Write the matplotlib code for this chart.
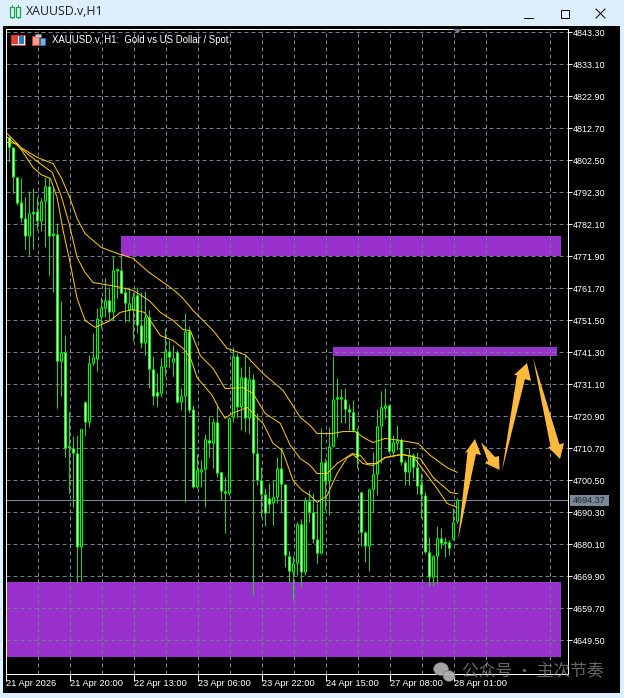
import matplotlib
matplotlib.use("Agg")
import matplotlib.pyplot as plt
from matplotlib.patches import Rectangle, Polygon, Ellipse

# hourly candles
opens = [4823.9, 4809.9, 4806.6, 4797.1, 4789.1, 4784.0, 4778.3, 4785.6, 4786.2, 4783.1,
         4789.4, 4794.2, 4778.6, 4778.9, 4738.4, 4741.3, 4711.0, 4710.7, 4709.1, 4679.2,
         4725.4, 4719.0, 4737.8, 4739.1, 4752.5, 4755.3, 4757.9, 4754.1, 4767.4, 4767.4,
         4760.4, 4754.7, 4754.7, 4759.5, 4749.9, 4744.2, 4752.5, 4735.9, 4728.6, 4728.2,
         4736.5, 4741.6, 4738.1, 4741.3, 4725.4, 4727.3, 4748.0, 4723.1, 4698.3, 4703.1,
         4704.0, 4713.3, 4712.3, 4719.0, 4703.1, 4697.0, 4696.3, 4720.6, 4740.0, 4723.8,
         4733.3, 4720.3, 4732.7, 4709.1, 4700.5, 4696.0, 4694.8, 4693.2, 4695.1, 4704.3,
         4699.2, 4676.3, 4671.2, 4674.0, 4686.5, 4671.2, 4693.8, 4690.3, 4681.7, 4677.2,
         4706.2, 4700.2, 4711.3, 4726.3, 4726.3, 4726.3, 4723.1, 4722.2, 4716.1, 4696.7,
         4683.9, 4679.5, 4697.6, 4702.4, 4717.7, 4723.4, 4724.4, 4709.4, 4712.3, 4713.3,
         4706.2, 4703.1, 4708.5, 4704.6, 4699.2, 4695.7, 4677.6, 4669.6, 4676.3, 4682.0,
         4680.4, 4680.7, 4681.7, 4687.4]
highs = [4823.9, 4809.9, 4806.6, 4797.1, 4796.8, 4790.7, 4792.6, 4793.5, 4790.7, 4790.4,
         4797.1, 4796.8, 4793.9, 4782.4, 4757.6, 4746.7, 4722.2, 4714.5, 4714.8, 4716.8,
         4725.7, 4740.3, 4747.4, 4755.3, 4758.8, 4764.9, 4762.0, 4771.9, 4768.1, 4772.2,
         4762.0, 4762.0, 4760.4, 4762.0, 4760.4, 4760.7, 4754.7, 4740.0, 4734.6, 4739.4,
         4748.9, 4745.1, 4743.5, 4741.9, 4729.8, 4753.7, 4749.6, 4724.4, 4708.8, 4706.9,
         4715.2, 4720.9, 4720.3, 4724.4, 4703.1, 4701.5, 4720.6, 4742.9, 4741.0, 4736.5,
         4740.3, 4736.8, 4734.3, 4721.9, 4704.6, 4697.9, 4699.5, 4700.5, 4707.8, 4711.0,
         4699.2, 4677.9, 4676.3, 4687.1, 4688.1, 4695.1, 4697.3, 4696.3, 4693.2, 4717.1,
         4707.5, 4717.4, 4740.0, 4733.0, 4729.5, 4729.8, 4724.7, 4726.0, 4717.1, 4696.7,
         4684.2, 4697.9, 4709.4, 4723.1, 4728.9, 4729.8, 4724.7, 4714.8, 4718.0, 4713.9,
         4706.9, 4710.7, 4709.1, 4709.4, 4702.7, 4696.7, 4682.3, 4676.6, 4685.8, 4685.2,
         4682.3, 4681.4, 4691.6, 4694.8]
lows = [4808.3, 4801.9, 4791.9, 4788.2, 4782.7, 4774.1, 4772.2, 4774.1, 4780.2, 4779.9,
        4774.8, 4765.8, 4760.4, 4723.4, 4727.3, 4707.8, 4696.3, 4691.9, 4667.7, 4668.3,
        4714.8, 4717.4, 4737.2, 4735.2, 4748.9, 4752.5, 4751.5, 4751.5, 4758.5, 4760.1,
        4750.9, 4750.9, 4744.8, 4747.4, 4742.6, 4740.3, 4729.8, 4724.4, 4723.8, 4727.0,
        4733.6, 4736.2, 4733.6, 4725.0, 4722.8, 4693.5, 4721.9, 4697.9, 4697.9, 4698.3,
        4691.9, 4707.8, 4704.3, 4701.5, 4694.1, 4683.6, 4695.7, 4719.0, 4720.3, 4716.4,
        4715.8, 4715.2, 4663.8, 4698.9, 4688.7, 4685.8, 4690.0, 4686.1, 4693.2, 4690.0,
        4672.8, 4668.0, 4662.3, 4670.2, 4666.4, 4670.2, 4687.1, 4680.4, 4674.0, 4677.2,
        4690.9, 4689.3, 4711.0, 4714.2, 4718.7, 4718.7, 4716.4, 4715.8, 4704.3, 4679.5,
        4674.4, 4671.5, 4690.3, 4695.7, 4705.9, 4720.3, 4709.1, 4707.8, 4710.1, 4705.3,
        4698.9, 4698.9, 4701.1, 4696.0, 4688.4, 4677.2, 4666.7, 4666.7, 4667.7, 4678.8,
        4676.0, 4676.6, 4681.4, 4686.8]
closes = [4809.9, 4806.6, 4797.1, 4788.8, 4784.0, 4778.3, 4785.6, 4785.4, 4783.1, 4789.4,
          4794.2, 4778.3, 4778.5, 4738.4, 4741.3, 4710.7, 4710.8, 4709.1, 4679.2, 4716.8,
          4719.0, 4737.8, 4739.7, 4752.1, 4755.6, 4757.9, 4754.1, 4767.4, 4767.2, 4760.1,
          4756.9, 4756.9, 4759.1, 4749.9, 4744.2, 4752.5, 4735.9, 4727.3, 4727.3, 4736.8,
          4741.6, 4739.7, 4739.4, 4725.4, 4727.3, 4748.0, 4722.8, 4698.3, 4703.7, 4704.0,
          4713.6, 4712.3, 4719.0, 4702.7, 4697.0, 4696.3, 4720.3, 4740.0, 4723.8, 4733.3,
          4720.3, 4732.7, 4709.1, 4700.5, 4696.0, 4690.0, 4692.8, 4695.1, 4704.3, 4699.2,
          4676.6, 4671.5, 4674.0, 4686.5, 4671.2, 4694.1, 4690.3, 4681.7, 4677.2, 4706.2,
          4700.2, 4711.3, 4726.3, 4727.0, 4727.0, 4723.1, 4722.2, 4716.4, 4707.8, 4683.9,
          4679.5, 4697.6, 4702.4, 4717.7, 4723.8, 4724.4, 4709.7, 4712.6, 4713.3, 4706.2,
          4703.1, 4708.5, 4704.6, 4698.6, 4696.0, 4677.6, 4669.6, 4676.3, 4682.0, 4680.4,
          4680.3, 4678.8, 4687.1, 4694.37]

# three moving averages, sampled by eye
slow_bars = [0.4, 3.9, 7.9, 11.9, 13.9, 15.9, 17.9, 19.9, 23.9, 27.9, 31.9, 35.9, 38.7, 42.2, 44.2,
             46.9, 51.9, 55.4, 59.9, 64.4, 69.4, 73.7, 76.2, 77.9, 81.9, 84.4, 87.4, 89.9, 91.9,
             94.9, 98.7, 103.2, 106.2, 110.4, 112.9]
slow_ma = [4811.1, 4806.6, 4803.5, 4801.5, 4797.1, 4791.3, 4784.0, 4779.2, 4774.8, 4772.9, 4771.3,
           4766.8, 4764.3, 4761.1, 4758.8, 4754.7, 4748.3, 4742.6, 4740.6, 4734.6, 4729.2, 4720.6,
           4718.0, 4715.5, 4715.5, 4716.1, 4716.1, 4713.9, 4712.6, 4713.9, 4713.3, 4712.3, 4708.5,
           4704.6, 4703.1]
mid_bars = [0.4, 3.9, 7.9, 11.7, 13.9, 15.9, 17.9, 19.9, 21.9, 27.9, 31.9, 35.9, 38.7, 41.9, 44.4,
            46.2, 48.7, 51.9, 54.9, 59.4, 61.9, 64.9, 68.7, 71.2, 73.7, 76.2, 77.9, 80.4, 82.9,
            86.7, 88.7, 90.4, 92.9, 94.9, 99.4, 103.7, 106.9, 111.2, 112.9]
mid_ma = [4809.9, 4806.3, 4802.2, 4798.7, 4791.3, 4782.4, 4771.6, 4766.8, 4763.6, 4762.3, 4761.1,
          4757.9, 4754.1, 4751.5, 4748.6, 4748.3, 4740.3, 4736.2, 4729.8, 4730.1, 4728.2, 4721.9,
          4718.7, 4711.7, 4707.5, 4705.3, 4702.7, 4702.7, 4705.9, 4709.1, 4708.5, 4705.9, 4705.9,
          4707.8, 4708.8, 4707.5, 4701.5, 4696.7, 4696.3]
fast_bars = [0.4, 2.9, 3.9, 6.9, 8.9, 11.2, 12.9, 14.4, 16.2, 17.9, 19.9, 22.4, 26.2, 28.7, 31.9,
             34.7, 36.2, 38.7, 41.9, 44.4, 46.2, 47.9, 51.7, 53.2, 54.9, 56.7, 60.4, 64.4, 66.9,
             69.2, 71.9, 74.2, 76.2, 77.9, 80.4, 82.9, 85.4, 86.9, 89.4, 91.7, 94.9, 98.7, 101.9,
             104.9, 107.9, 110.4, 112.9]
fast_ma = [4808.3, 4807.9, 4806.0, 4800.3, 4798.0, 4796.8, 4790.7, 4780.2, 4769.7, 4758.5, 4751.5,
           4749.3, 4751.5, 4754.1, 4755.0, 4754.1, 4751.5, 4746.7, 4745.1, 4742.6, 4739.7, 4733.3,
           4727.6, 4723.8, 4720.3, 4721.9, 4723.8, 4718.7, 4712.3, 4710.1, 4700.5, 4697.3, 4695.7,
           4693.5, 4695.7, 4702.7, 4707.8, 4708.8, 4705.9, 4705.3, 4707.8, 4708.8, 4708.2, 4703.1,
           4697.9, 4693.2, 4691.9]

# (first bar, last bar, low price, high price)
zones = [(28.9, 138.9, 4772.2, 4778.3),
         (81.9, 137.9, 4740.3, 4742.9),
         (0.0, 138.9, 4644.1, 4668.3)]

y_ticks = [4843.30, 4833.10, 4822.90, 4812.70, 4802.50, 4792.30, 4782.10, 4771.90, 4761.70, 4751.50,
           4741.30, 4731.10, 4720.90, 4710.70, 4700.50, 4690.30, 4680.10, 4669.90, 4659.70, 4649.50]
x_tick_bars = [0, 16, 32, 48, 64, 80, 96, 112]
x_tick_labels = ["21 Apr 2026", "21 Apr 20:00", "22 Apr 13:00", "23 Apr 06:00",
                 "23 Apr 22:00", "24 Apr 15:00", "27 Apr 08:00", "28 Apr 01:00"]
last_price = 4694.37

# hand drawn arrows on top of the screenshot, in pixels
arrows = [
    [(458, 540), (467.5, 452), (465, 453), (475, 439), (481, 455), (476, 454)],
    [(481, 442), (495, 457), (499, 456), (499.5, 470), (485, 463), (488, 461)],
    [(502, 471), (517, 375), (514, 375), (527, 363), (531, 381), (525, 379)],
    [(533, 358), (559.5, 444.5), (564, 443), (560, 459), (548, 447), (550.5, 446.5)],
]

W, H = 624, 698
LIME = "#00FF00"
WICK = "#1ED81E"
GRID = "#708090"
ORCHID = "#9932CC"
GOLD = "#FFCC00"
PANEL = "#DDEEFC"
FONT = "Liberation Sans"
PX = 0.72  # one pixel in points at dpi 100
PRICE_PX = 0.31875  # price covered by one pixel

fig = plt.figure(figsize=(W / 100, H / 100), dpi=100, facecolor=PANEL)

# black window body behind the chart
back = fig.add_axes([0, 0, 1, 1], zorder=0)
back.set_xlim(0, W)
back.set_ylim(H, 0)
back.axis("off")
back.add_patch(Rectangle((3, 26), 617, 667, color="black", lw=0))

# chart area, 5.5..567.5 px across and 28.5..673.5 px down
ax = fig.add_axes([5.5 / W, 1 - 673.5 / H, 562 / W, 645 / H], zorder=1, facecolor="black")
ax.set_xlim(0, 140.5)
ax.set_ylim(4638.98, 4844.575)

for x0, x1, lo, hi in zones:
    ax.add_patch(Rectangle((x0, lo), x1 - x0, hi - lo, color=ORCHID, lw=0, zorder=1))

# grid sits over the zones
ax.set_yticks(y_ticks)
ax.set_yticklabels([f"{v:.2f}" for v in y_ticks])
ax.set_xticks(x_tick_bars)
ax.set_xticklabels(x_tick_labels, ha="left")
ax.set_xticks(range(8, 140, 16), minor=True)
ax.yaxis.tick_right()
ax.grid(True, which="both", color=GRID, lw=PX, linestyle=(0, (4, 3)))
ax.set_axisbelow(False)
for gl in ax.get_xgridlines() + ax.get_ygridlines():
    gl.set_zorder(2)
ax.tick_params(axis="y", which="major", colors="white", length=2.9, width=PX, labelsize=6.5, pad=0.7)
ax.tick_params(axis="x", which="major", colors="white", length=5, width=PX, labelsize=6.7, pad=-1.3)
ax.tick_params(axis="x", which="minor", length=0)
for lab in ax.get_xticklabels() + ax.get_yticklabels():
    lab.set_family(FONT)
for side in ax.spines.values():
    side.set_color("white")
    side.set_linewidth(PX)
    side.set_zorder(8)

ax.axhline(last_price, color="#778899", lw=PX, zorder=3)

# candles: wick, 3 px body, then a 1 px core, white when price fell and black when it rose
# snap is off so the widths stay on whole pixels
bars = list(range(len(opens)))
ax.vlines(bars, lows, highs, color=WICK, lw=PX, snap=False, zorder=4)
body_top = [max(o, c, min(o, c) + 2 * PRICE_PX) for o, c in zip(opens, closes)]
body_low = [min(o, c) for o, c in zip(opens, closes)]
ax.vlines(bars, body_low, body_top, color=LIME, lw=3 * PX, snap=False, capstyle="butt", zorder=5)
core_colors = ["white" if c < o else "black" for o, c in zip(opens, closes)]
ax.vlines(bars, [v + PRICE_PX for v in body_low], [v - PRICE_PX for v in body_top],
          colors=core_colors, lw=PX, snap=False, capstyle="butt", zorder=5.5)

ax.plot(slow_bars, slow_ma, color=GOLD, lw=PX, zorder=6)
ax.plot(mid_bars, mid_ma, color=GOLD, lw=PX, zorder=6)
ax.plot(fast_bars, fast_ma, color=GOLD, lw=PX, zorder=6)

# everything that belongs to the window rather than the data
top = fig.add_axes([0, 0, 1, 1], zorder=2)
top.set_xlim(0, W)
top.set_ylim(H, 0)
top.axis("off")
top.patch.set_alpha(0)

for pts in arrows:
    top.add_patch(Polygon(pts, closed=True, facecolor="#FFB93C", edgecolor="none"))

# current price tag and the small marker on the top edge
top.add_patch(Rectangle((570, 495), 39, 11, color="#778899", lw=0))
top.text(589.5, 500.6, f"{last_price:.2f}", color="#222222", fontsize=6.5, family=FONT,
         ha="center", va="center")
top.add_patch(Polygon([(453, 29), (462, 29), (457.5, 33)], closed=True, color=GRID, lw=0))

# header of the chart
top.add_patch(Rectangle((10.5, 34.5), 14, 10, facecolor="white", edgecolor="#D8302A", lw=PX))
top.add_patch(Rectangle((11.5, 35.5), 6, 8, color="#E04030", lw=0))
top.add_patch(Rectangle((18.5, 35.5), 5.5, 8, color="#2A7ABE", lw=0))
top.add_patch(Rectangle((31.5, 35.5), 7, 9.5, facecolor="#F2A090", edgecolor="#D8302A", lw=PX))
top.add_patch(Rectangle((39.5, 37.5), 5.5, 7.5, facecolor="#6FB5E5", edgecolor="#1F6FB0", lw=PX))
top.add_patch(Rectangle((35, 33.5), 6, 3, facecolor="#C8C8C8", edgecolor="#808080", lw=0.4))
top.text(51.5, 40, "XAUUSD.v, H1:  Gold vs US Dollar / Spot", color="white", fontsize=6.95,
         family=FONT, va="center")

# title bar
for x0, y0, y1 in [(11.5, 8, 16), (18, 8, 16)]:
    top.plot([x0, x0], [5, 18], color="#16A34A", lw=PX)
    top.add_patch(Rectangle((x0 - 2, y0 - 1), 4, y1 - y0 + 2, facecolor=PANEL, edgecolor="#16A34A",
                            lw=PX * 1.2, zorder=3))
top.text(26, 11.5, "XAUUSD.v,H1", color="#222222", fontsize=8.9, family="Open Sans", va="center")
top.plot([524, 533], [17.5, 17.5], color="black", lw=PX)
top.add_patch(Rectangle((560.5, 9.5), 8, 8, facecolor="none", edgecolor="black", lw=PX))
top.plot([596, 605], [9, 18], color="black", lw=PX)
top.plot([596, 605], [18, 9], color="black", lw=PX)

# watermark
for cx, cy, w, h in [(441, 669, 15, 13), (449, 676, 12, 11)]:
    top.add_patch(Ellipse((cx, cy), w, h, facecolor="#B8B8B8", edgecolor="#555555", lw=0.4, alpha=0.9))
top.text(462, 671.5, "公众号 · 主次节奏", color="#8a8a8a", alpha=0.75, fontsize=12.1,
         family=["Noto Sans CJK SC", "DejaVu Sans"], va="center")

fig.savefig("out.png", dpi=100, facecolor=PANEL)
